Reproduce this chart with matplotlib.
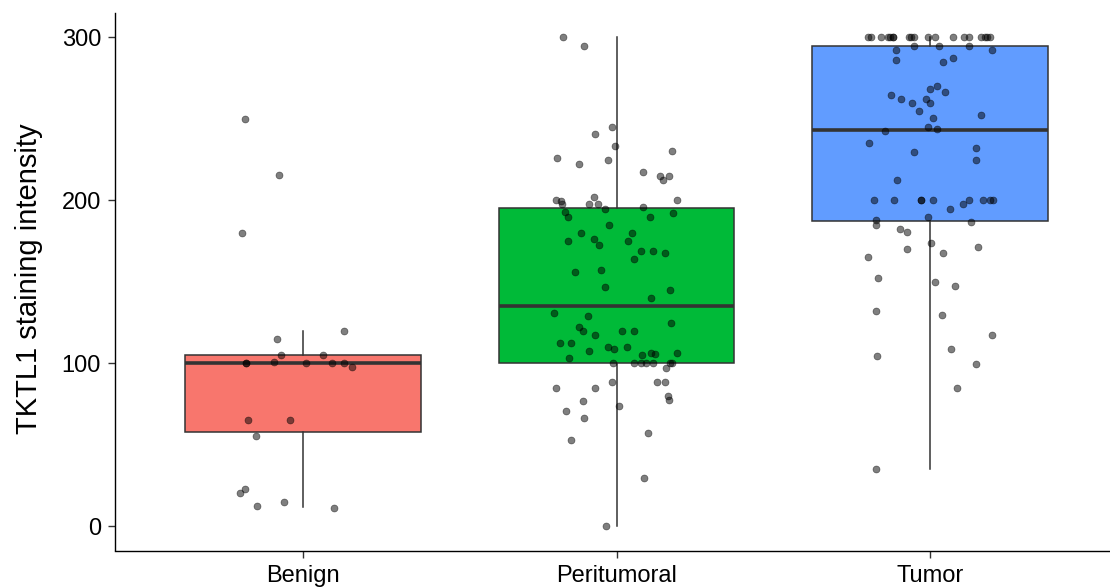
import numpy as np
import matplotlib.pyplot as plt
from matplotlib import rcParams
rcParams['font.family'] = ['Liberation Sans', 'DejaVu Sans']

groups = ["Benign", "Peritumoral", "Tumor"]
box_colors = ["#F8766D", "#00BA38", "#619CFF"]

# box summaries: lower whisker, Q1, median, Q3, upper whisker
whisker_low = [11.5, 0, 35]
q1 = [57.6, 100, 187]
median = [100, 135.2, 243.4]
q3 = [105, 195, 295]
whisker_high = [120, 300, 300]

# jittered observations (value, horizontal jitter in category units)
benign_values = [250, 215.5, 180, 120, 115, 105, 105, 100, 100, 101, 100, 100,
                 100, 97.5, 65, 65, 55, 22.5, 20, 12.5, 15, 11.3]
benign_jitter = [-0.184, -0.078, -0.196, 0.131, -0.084, -0.071, 0.064, -0.183,
                 -0.183, -0.093, 0.011, 0.093, 0.132, 0.156, -0.174, -0.042,
                 -0.15, -0.185, -0.2, -0.146, -0.06, 0.098]

peri_values = [300, 295, 245, 240.7, 233.4, 226.2, 222.5, 225, 230, 217.4, 215.1,
               215.1, 212.2, 200, 200, 199.4, 198, 201.8, 197.5, 197.7, 194.8,
               195.8, 192.6, 190, 192, 190, 185, 179.9, 179.9, 175, 176, 172.3,
               174.8, 169, 168.8, 167.4, 164.1, 156.1, 157.5, 146.5, 144.9, 140,
               130.7, 129.1, 124.8, 122.5, 119.9, 120, 119.9, 117.6, 112.5, 112.5,
               110, 108.8, 110, 107.4, 103.3, 104.9, 106.3, 105.7, 106.5, 100, 100,
               100, 100, 100, 100, 100, 97.3, 85, 85, 88.7, 88.7, 88.7, 79.9, 77.4,
               76.6, 73.6, 70.5, 66.6, 53, 57.4, 29.7, 0]
peri_jitter = [-0.172, -0.104, -0.013, -0.069, -0.006, -0.189, -0.119, -0.026,
               0.178, 0.084, 0.14, 0.168, 0.149, 0.193, -0.193, -0.176, -0.174,
               -0.071, -0.088, -0.059, -0.038, 0.084, -0.165, -0.156, 0.181, 0.108,
               -0.024, -0.112, 0.049, -0.156, -0.073, -0.055, 0.037, 0.079, 0.117,
               0.156, 0.056, -0.132, -0.048, -0.038, 0.171, 0.11, -0.198, -0.091,
               0.174, -0.119, -0.108, 0.017, 0.057, -0.067, -0.18, -0.145, -0.026,
               -0.007, 0.035, -0.088, -0.153, 0.08, 0.11, 0.122, 0.194, -0.011,
               0.057, 0.078, 0.094, 0.116, 0.171, 0.177, 0.159, -0.193, -0.067,
               -0.014, 0.128, 0.154, 0.164, 0.167, -0.107, 0.008, -0.161, -0.103,
               -0.146, 0.1, 0.087, -0.035]

tumor_values = [300] * 19 + [
    295, 295, 295, 292.4, 292.4, 286.2, 287.4, 285, 270, 268.4, 266.5, 264.9,
    262.4, 260, 262.4, 260, 255.1, 252.4, 250.8, 245.1, 243.8, 242.4, 235, 232.3,
    229.9, 225, 212.5, 200, 200, 200, 200, 200, 200, 200, 200, 200, 197.5, 194.8,
    189.7, 187.9, 185, 186.8, 182.5, 180.3, 173.7, 170, 171.5, 164.9, 167.4,
    152.6, 150, 147.3, 132.3, 129.7, 117.4, 108.6, 104.7, 99.8, 84.8, 34.8]
tumor_jitter = [-0.197, -0.188, -0.156, -0.135, -0.128, -0.117, -0.117, -0.067,
                -0.06, -0.052, -0.007, 0.017, 0.072, 0.108, 0.125, 0.162, 0.175,
                0.183, 0.191,
                -0.051, 0.028, 0.125, -0.107, 0.198, -0.108, 0.073, 0.041, 0.023,
                0.001, 0.047, -0.124, -0.093, -0.059, -0.014, 0.001, -0.036, 0.163,
                0.01, -0.005, 0.021, -0.144, -0.196, 0.146, -0.051, 0.147, -0.104,
                -0.179, -0.116, -0.028, -0.028, 0.009, 0.125, 0.168, 0.191, 0.2,
                0.105, 0.063, -0.005, -0.172, -0.172, 0.13, -0.097, -0.074, 0.002,
                -0.072, 0.153, -0.197, 0.043, -0.166, 0.017, 0.079, -0.173, 0.037,
                0.198, 0.067, -0.168, 0.146, 0.087, -0.172]

values = [benign_values, peri_values, tumor_values]
jitter = [benign_jitter, peri_jitter, tumor_jitter]

fig = plt.figure(figsize=(11.1, 5.88), dpi=100)
ax = fig.add_axes([114.9 / 1110, 37.5 / 588, 995.1 / 1110, 537.5 / 588])

stats = []
for i, g in enumerate(groups):
    stats.append({'label': g, 'whislo': whisker_low[i], 'q1': q1[i],
                  'med': median[i], 'q3': q3[i], 'whishi': whisker_high[i]})

edge = "#333333"
bp = ax.bxp(stats, positions=[1, 2, 3], widths=0.75, patch_artist=True,
            showfliers=False, showcaps=False,
            boxprops=dict(edgecolor=edge, linewidth=1.1),
            whiskerprops=dict(color=edge, linewidth=1.1),
            medianprops=dict(color=edge, linewidth=2.6, solid_capstyle='butt'))
for patch, c in zip(bp['boxes'], box_colors):
    patch.set_facecolor(c)

for i in range(3):
    xs = np.array(jitter[i]) + i + 1
    ax.scatter(xs, values[i], s=25, facecolor=(0, 0, 0, 0.5),
               edgecolor=(0, 0, 0, 0.5), linewidths=0.5, zorder=3)

ax.set_xlim(0.4, 3 + 180 / 313.5)
ax.set_ylim(-15, 315)
ax.set_yticks([0, 100, 200, 300])
ax.set_xticks([1, 2, 3])
ax.set_xticklabels(groups)

for s in ['top', 'right']:
    ax.spines[s].set_visible(False)
for s in ['left', 'bottom']:
    ax.spines[s].set_linewidth(1.0)
    ax.spines[s].set_color('black')
ax.tick_params(axis='both', length=5, width=1.0, color=edge, labelsize=17,
               labelcolor='black')
ax.tick_params(axis='y', pad=5)
ax.tick_params(axis='x', pad=5.5)

ax.set_ylabel("TKTL1 staining intensity", fontsize=21)
ax.yaxis.set_label_coords(-0.0723, 0.505)

plt.savefig("out.png", dpi=100)
